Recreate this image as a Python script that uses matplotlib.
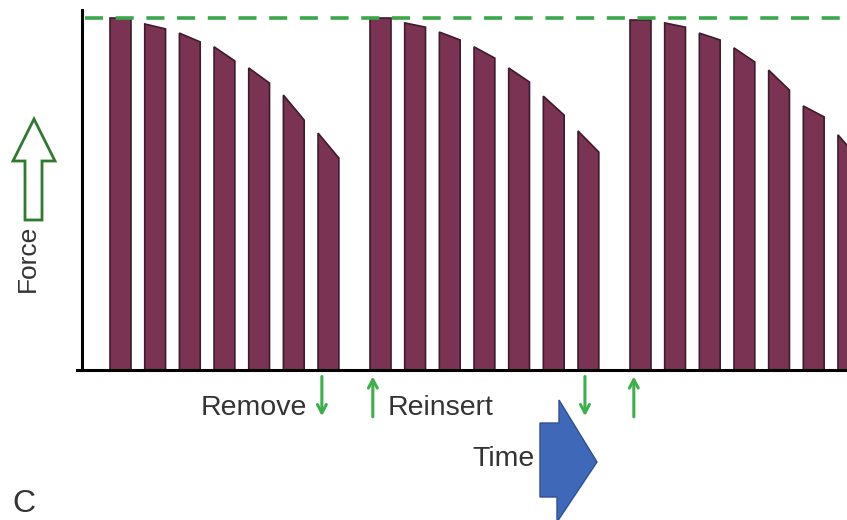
import matplotlib
matplotlib.use("Agg")
import matplotlib.pyplot as plt
from matplotlib.patches import Polygon
from matplotlib.transforms import blended_transform_factory

plt.rcParams['font.family'] = ['Liberation Sans', 'DejaVu Sans']

# ---- data (time in stimulus slots, force relative to initial max) ----
bar_time = [0.81, 1.81, 2.81, 3.81, 4.81, 5.81, 6.81,
            8.31, 9.31, 10.31, 11.31, 12.31, 13.31, 14.31,
            15.81, 16.81, 17.81, 18.81, 19.81, 20.81, 21.81]
force_start = [1.00, 0.983, 0.957, 0.918, 0.858, 0.781, 0.673,
               1.00, 0.986, 0.960, 0.918, 0.858, 0.778, 0.679,
               0.995, 0.986, 0.957, 0.915, 0.852, 0.750, 0.668]
force_end = [1.00, 0.969, 0.932, 0.878, 0.815, 0.710, 0.602,
             1.00, 0.974, 0.9375, 0.886, 0.818, 0.724, 0.619,
             0.995, 0.974, 0.9375, 0.875, 0.795, 0.719, 0.600]
bar_width = 0.6
max_force = 1.0
remove_times = [6.92, 14.51]
reinsert_times = [8.39, 15.92]

W, H = 847, 520
fig = plt.figure(figsize=(W / 100, H / 100), dpi=100)
ax = fig.add_axes([82 / W, 1 - 370 / H, 1 - 82 / W, 360 / H])
ax.set_xlim(0, 22.07)
ax.set_ylim(0, 1.0227)

for t, f0, f1 in zip(bar_time, force_start, force_end):
    ax.fill([t, t, t + bar_width, t + bar_width], [0, f0, f1, 0],
            facecolor='#7b3353', edgecolor='#3d1b2a', linewidth=1.2,
            zorder=2)

ax.axhline(max_force, xmin=0.004, color='#3aa84a', linewidth=2.6,
           linestyle=(0, (5, 3.5)), zorder=3)

for s in ['top', 'right']:
    ax.spines[s].set_visible(False)
ax.spines['left'].set_linewidth(2.2)
ax.spines['bottom'].set_linewidth(2.2)
ax.spines['bottom'].set_bounds(-0.15, 22.07)
ax.spines['bottom'].set_clip_on(False)
ax.set_xticks([])
ax.set_yticks([])

tr = blended_transform_factory(ax.transData, ax.transAxes)
green = '#3cb04a'
astyle = '->,head_length=0.6,head_width=0.32'
for t in remove_times:
    ax.annotate('', xy=(t, -0.128), xytext=(t, -0.018), xycoords=tr,
                textcoords=tr,
                arrowprops=dict(arrowstyle=astyle, color=green, lw=2.2,
                                shrinkA=0, shrinkB=0))
for t in reinsert_times:
    ax.annotate('', xy=(t, -0.018), xytext=(t, -0.13), xycoords=tr,
                textcoords=tr,
                arrowprops=dict(arrowstyle=astyle, color=green, lw=2.2,
                                shrinkA=0, shrinkB=0))

ax.text(6.49, -0.105, 'Remove', transform=tr, ha='right', va='center',
        fontsize=20.5, color='#333333')
ax.text(8.83, -0.105, 'Reinsert', transform=tr, ha='left', va='center',
        fontsize=20.5, color='#333333')

# Time arrow (figure pixel coords converted to fractions)
def fp(x, y):
    return (x / W, 1 - y / H)

time_arrow = [fp(540, 423), fp(559, 423), fp(559, 400), fp(597, 462),
              fp(557, 522), fp(557, 497), fp(540, 497)]
fig.patches.append(Polygon(time_arrow, closed=True, transform=fig.transFigure,
                           facecolor='#4068b8', edgecolor='#2f4f95', lw=1.0))
fig.text(535 / W, 1 - 459 / H, 'Time', ha='right', va='center', fontsize=20.5,
         color='#333333')

# Force hollow arrow
force_arrow = [fp(25, 220), fp(25, 161), fp(13, 161), fp(34, 119),
               fp(55, 161), fp(42, 161), fp(42, 220)]
fig.patches.append(Polygon(force_arrow, closed=True, transform=fig.transFigure,
                           facecolor='white', edgecolor='#2f7a30', lw=2.0))
fig.text(28 / W, 1 - 258 / H, 'Force', ha='center', va='center',
         rotation=90, fontsize=19, color='#333333')

fig.text(12 / W, 1 - 504 / H, 'C', ha='left', va='center', fontsize=23,
         color='#333333')

fig.savefig('out.png', dpi=100)
